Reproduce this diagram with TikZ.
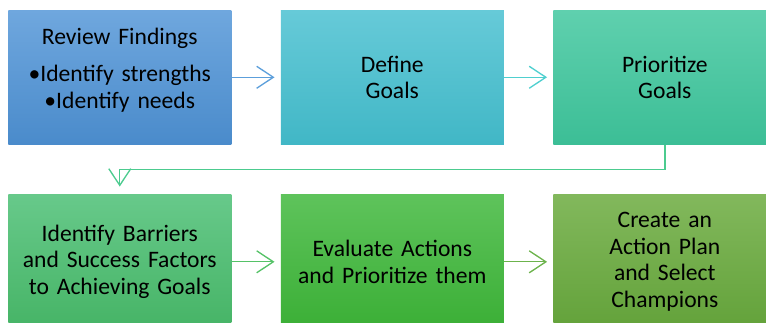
\documentclass[tikz,border=0pt]{standalone}
\usepackage{fontspec}
\setmainfont{Carlito}
\usetikzlibrary{positioning, arrows.meta}
\def\boxsep{36.75pt}
\definecolor{blueTop}{HTML}{6FA7DE}
\definecolor{blueBot}{HTML}{4A8BCB}
\definecolor{tealTop}{HTML}{66CAD8}
\definecolor{tealBot}{HTML}{41B7C6}
\definecolor{mintTop}{HTML}{5FD0AE}
\definecolor{mintBot}{HTML}{3CBE96}
\definecolor{leafTop}{HTML}{67C98A}
\definecolor{leafBot}{HTML}{46B466}
\definecolor{grassTop}{HTML}{5EC35B}
\definecolor{grassBot}{HTML}{3BAF36}
\definecolor{oliveTop}{HTML}{82B85C}
\definecolor{oliveBot}{HTML}{63A23A}
\definecolor{arrowA}{HTML}{5C9FDB}
\definecolor{arrowB}{HTML}{4FCFCF}
\definecolor{arrowC}{HTML}{4CCB8F}
\definecolor{arrowD}{HTML}{55C267}
\definecolor{arrowE}{HTML}{6CB34C}
\tikzstyle{stage box}=[rectangle, minimum width=167.25pt, minimum height=100.5pt, inner sep=0pt, align=center, text width=162pt, font=\fontsize{17.7}{20}\selectfont]
\tikzstyle{flow}=[-{Straight Barb[length=12.5pt,width=16.5pt]}, line width=1pt, shorten >=4.5pt]

\begin{document}
\begin{tikzpicture}[x=0.75pt, y=-0.75pt, node distance=\boxsep]

			\clip (0,0) rectangle (766,322);

			% Draw the top row of stages
			\node[stage box, top color=blueTop, bottom color=blueBot, anchor=north west] (S-1) at (8,10)
				{Review Findings\\[8pt] \textbullet Identify strengths\\ \textbullet Identify needs\\[-6pt]\mbox{}};
			\node[stage box, top color=tealTop, bottom color=tealBot, right=of S-1] (S-2) {Define\\Goals};
			\node[stage box, top color=mintTop, bottom color=mintBot, right=of S-2] (S-3) {Prioritize\\Goals};

			% Draw the bottom row of stages
			\node[stage box, top color=leafTop, bottom color=leafBot, below=37.5pt of S-1] (S-4)
				{Identify Barriers\\and Success Factors\\to Achieving Goals};
			\node[stage box, top color=grassTop, bottom color=grassBot, right=of S-4] (S-5)
				{Evaluate Actions\\and Prioritize them};
			\node[stage box, top color=oliveTop, bottom color=oliveBot, right=of S-5] (S-6)
				{Create an\\Action Plan\\and Select\\Champions};

			% Connect the stages in each row
			\foreach \source/\dest/\col in {1/2/arrowA, 2/3/arrowB, 4/5/arrowD, 5/6/arrowE}
			\draw[flow, \col] (S-\source) -- (S-\dest);

			% Carry the flow down to the second row
			\draw[flow, arrowC, shorten >=6pt] (S-3.south) -- ++(0,25) -| (S-4.north);
		\end{tikzpicture}
\end{document}
